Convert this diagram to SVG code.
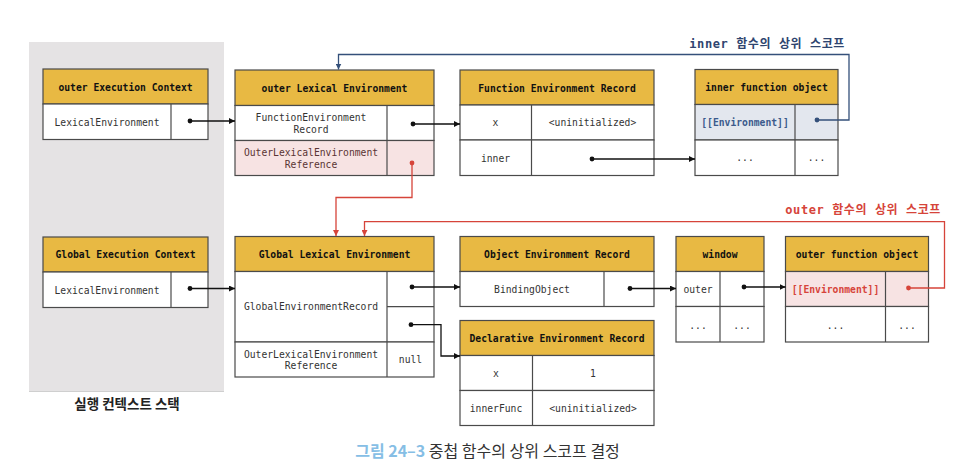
<svg xmlns="http://www.w3.org/2000/svg" width="964" height="469" viewBox="0 0 964 469">
<defs>
<style>
.hd{fill:#E8B943;stroke:#4a4a4a;stroke-width:1.2}
.bd{fill:#ffffff;stroke:#4a4a4a;stroke-width:1.2}
.pk{fill:#F7E3E3;stroke:#4a4a4a;stroke-width:1.2}
.bl{fill:#E3E7EE;stroke:#4a4a4a;stroke-width:1.2}
.ln{stroke:#4a4a4a;stroke-width:1.2;fill:none}
text{font-family:"DejaVu Sans Mono","Liberation Mono","Noto Sans CJK KR",monospace;font-size:9.7px;text-anchor:middle;dominant-baseline:central;fill:#333}
.ht{font-weight:bold;fill:#111}
.pt{fill:#5a3434}
.eb{font-weight:bold;fill:#3B5A8C}
.er{font-weight:bold;fill:#D6443A}
.k{stroke:#111;stroke-width:1.3;fill:none}
.kb{stroke:#34507A;stroke-width:1.3;fill:none}
.kr{stroke:#D6443A;stroke-width:1.3;fill:none}
.lab{text-anchor:end;font-weight:bold;font-size:12px;letter-spacing:0.6px}
</style>
<marker id="ak" viewBox="0 0 6 6" refX="6" refY="3" markerWidth="6" markerHeight="6" markerUnits="userSpaceOnUse" orient="auto"><path d="M0,0 L6,3 L0,6 z" fill="#111"/></marker>
<marker id="ab" viewBox="0 0 6 6" refX="6" refY="3" markerWidth="6" markerHeight="6" markerUnits="userSpaceOnUse" orient="auto"><path d="M0,0 L6,3 L0,6 z" fill="#34507A"/></marker>
<marker id="ar" viewBox="0 0 6 6" refX="6" refY="3" markerWidth="6" markerHeight="6" markerUnits="userSpaceOnUse" orient="auto"><path d="M0,0 L6,3 L0,6 z" fill="#D6443A"/></marker>
</defs>
<rect width="964" height="469" fill="#ffffff"/>
<g id="stack">
<rect x="29" y="42" width="195" height="350" fill="#E5E3E4"/>
<line x1="29" y1="391.5" x2="224" y2="391.5" stroke="#cfcfcf" stroke-width="1"/>
<text x="127" y="403" style="font-family:'Noto Sans CJK KR',sans-serif;font-weight:bold;font-size:13.5px;fill:#222">실행 컨텍스트 스택</text>
</g>
<g id="outer-ec">
<rect class="hd" x="43" y="69" width="165" height="35"/>
<rect class="bd" x="43" y="104" width="165" height="35.5"/>
<line class="ln" x1="171" y1="104" x2="171" y2="139.5"/>
<text class="ht" x="125.5" y="87">outer Execution Context</text>
<text x="107" y="122">LexicalEnvironment</text>
</g>
<g id="outer-le">
<rect class="hd" x="235" y="70" width="199" height="35.5"/>
<rect class="bd" x="235" y="105.5" width="199" height="35"/>
<rect class="pk" x="235" y="140.5" width="199" height="35"/>
<line class="ln" x1="387" y1="105.5" x2="387" y2="175.5"/>
<text class="ht" x="334.5" y="88">outer Lexical Environment</text>
<text x="311" y="117">FunctionEnvironment</text>
<text x="311" y="129">Record</text>
<text class="pt" x="311" y="152.5">OuterLexicalEnvironment</text>
<text class="pt" x="311" y="164">Reference</text>
</g>
<g id="function-er">
<rect class="hd" x="460" y="70" width="194" height="35"/>
<rect class="bd" x="460" y="105" width="194" height="35"/>
<rect class="bd" x="460" y="140" width="194" height="35.5"/>
<line class="ln" x1="531.5" y1="105" x2="531.5" y2="175.5"/>
<text class="ht" x="557" y="88">Function Environment Record</text>
<text x="495.5" y="122.5">x</text>
<text x="592.5" y="122.5">&lt;uninitialized&gt;</text>
<text x="495.5" y="158">inner</text>
</g>
<g id="inner-fo">
<rect class="hd" x="695" y="69.5" width="143" height="35"/>
<rect class="bl" x="695" y="104.5" width="143" height="35.5"/>
<rect class="bd" x="695" y="140" width="143" height="35.5"/>
<line class="ln" x1="795" y1="104.5" x2="795" y2="175.5"/>
<text class="ht" x="766.5" y="87">inner function object</text>
<text class="eb" x="745" y="122">[[Environment]]</text>
<text x="745" y="157.5">...</text>
<text x="816.5" y="157.5">...</text>
</g>
<g id="global-ec">
<rect class="hd" x="43" y="237" width="165" height="35"/>
<rect class="bd" x="43" y="272" width="165" height="35.5"/>
<line class="ln" x1="171" y1="272" x2="171" y2="307.5"/>
<text class="ht" x="125.5" y="254.5">Global Execution Context</text>
<text x="107" y="290">LexicalEnvironment</text>
</g>
<g id="global-le">
<rect class="hd" x="235" y="236.5" width="199" height="35"/>
<rect class="bd" x="235" y="271.5" width="199" height="70.5"/>
<rect class="bd" x="235" y="342" width="199" height="35"/>
<line class="ln" x1="387" y1="271.5" x2="387" y2="377"/>
<line class="ln" x1="387" y1="306.7" x2="434" y2="306.7"/>
<text class="ht" x="334.5" y="254">Global Lexical Environment</text>
<text x="311" y="306.5">GlobalEnvironmentRecord</text>
<text x="311" y="354">OuterLexicalEnvironment</text>
<text x="311" y="365.5">Reference</text>
<text x="410.5" y="359.5">null</text>
</g>
<g id="object-er">
<rect class="hd" x="460" y="236.5" width="194" height="35"/>
<rect class="bd" x="460" y="271.5" width="194" height="35"/>
<line class="ln" x1="604" y1="271.5" x2="604" y2="306.5"/>
<text class="ht" x="557" y="254">Object Environment Record</text>
<text x="532" y="289">BindingObject</text>
</g>
<g id="declarative-er">
<rect class="hd" x="460" y="320.5" width="194" height="35"/>
<rect class="bd" x="460" y="355.5" width="194" height="35"/>
<rect class="bd" x="460" y="390.5" width="194" height="35"/>
<line class="ln" x1="532.5" y1="355.5" x2="532.5" y2="425.5"/>
<text class="ht" x="557" y="338">Declarative Environment Record</text>
<text x="496" y="373">x</text>
<text x="593" y="373">1</text>
<text x="496" y="408">innerFunc</text>
<text x="593" y="408">&lt;uninitialized&gt;</text>
</g>
<g id="window">
<rect class="hd" x="676" y="236.5" width="88" height="35"/>
<rect class="bd" x="676" y="271.5" width="88" height="35"/>
<rect class="bd" x="676" y="306.5" width="88" height="35.5"/>
<line class="ln" x1="720" y1="271.5" x2="720" y2="342"/>
<text class="ht" x="720" y="254">window</text>
<text x="698" y="289">outer</text>
<text x="698" y="325">...</text>
<text x="742" y="325">...</text>
</g>
<g id="outer-fo">
<rect class="hd" x="785.5" y="236.5" width="143" height="35"/>
<rect class="pk" x="785.5" y="271.5" width="143" height="35"/>
<rect class="bd" x="785.5" y="306.5" width="143" height="35.5"/>
<line class="ln" x1="885.5" y1="271.5" x2="885.5" y2="342"/>
<text class="ht" x="857" y="254">outer function object</text>
<text class="er" x="835.5" y="289">[[Environment]]</text>
<text x="835.5" y="325">...</text>
<text x="907" y="325">...</text>
</g>
<g id="connectors">
<path class="k" d="M190,121 H235" marker-end="url(#ak)"/>
<circle cx="190" cy="121" r="2.4" fill="#111"/>
<path class="k" d="M413,124 H460" marker-end="url(#ak)"/>
<circle cx="413" cy="124" r="2.4" fill="#111"/>
<path class="k" d="M592,159 H695" marker-end="url(#ak)"/>
<circle cx="592" cy="159" r="2.4" fill="#111"/>
<path class="k" d="M190,288.5 H235" marker-end="url(#ak)"/>
<circle cx="190" cy="288.5" r="2.4" fill="#111"/>
<path class="k" d="M412,287 H460" marker-end="url(#ak)"/>
<circle cx="412" cy="287" r="2.4" fill="#111"/>
<path class="k" d="M411,324.7 H441 V356 H460" marker-end="url(#ak)"/>
<circle cx="411" cy="324.7" r="2.4" fill="#111"/>
<path class="k" d="M630,288.5 H676" marker-end="url(#ak)"/>
<circle cx="630" cy="288.5" r="2.4" fill="#111"/>
<path class="k" d="M744,287 H785.5" marker-end="url(#ak)"/>
<circle cx="744" cy="287" r="2.4" fill="#111"/>
<path class="kb" d="M817,120 H849 V54.5 H338.5 V69.5" marker-end="url(#ab)"/>
<circle cx="817" cy="120" r="2.4" fill="#34507A"/>
<path class="kr" d="M412,163 V197.5 H336 V236" marker-end="url(#ar)"/>
<circle cx="412" cy="163" r="2.4" fill="#D6443A"/>
<path class="kr" d="M908.5,288 H944.5 V221.7 H364.5 V236" marker-end="url(#ar)"/>
<circle cx="908.5" cy="288" r="2.4" fill="#D6443A"/>
<text class="lab" x="845" y="44" style="fill:#2F4570">inner 함수의 상위 스코프</text>
<text class="lab" x="941" y="210" style="fill:#D6443A">outer 함수의 상위 스코프</text>
</g>
<text x="487.5" y="450" style="font-family:'Noto Sans CJK KR',sans-serif;font-size:16px;fill:#333"><tspan style="font-weight:bold;fill:#86BEE5">그림 24–3</tspan> 중첩 함수의 상위 스코프 결정</text>
</svg>
